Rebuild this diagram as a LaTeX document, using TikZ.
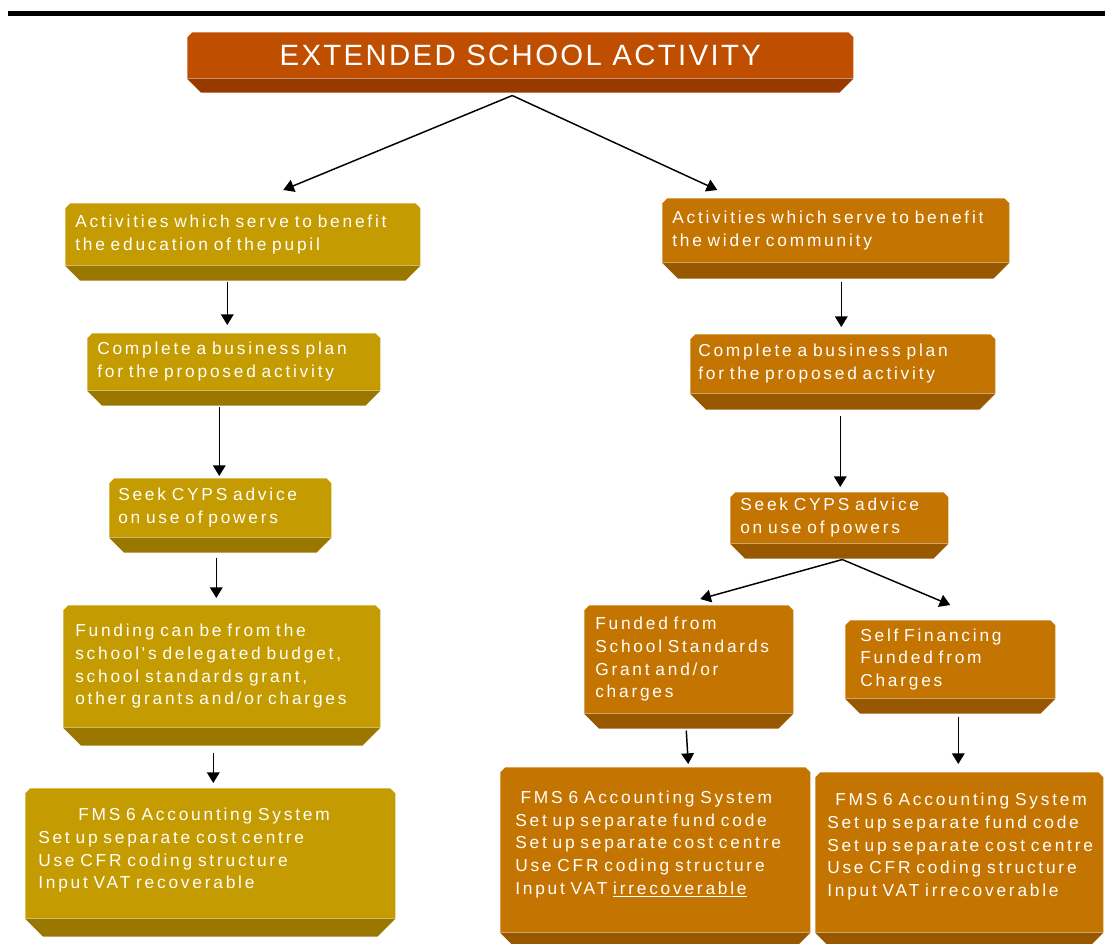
\documentclass[tikz,border=0pt]{standalone}
\usepackage{fontspec}
\setmainfont{Liberation Sans}
\newfontfamily\boxfont[LetterSpace=16]{Liberation Sans}
\newfontfamily\titlefont[LetterSpace=8]{Liberation Sans}
\usepackage{tikz}
\usetikzlibrary{arrows.meta}
\definecolor{ttlface}{HTML}{C04E00}
\definecolor{ttlbev}{HTML}{983A00}
\definecolor{goldface}{HTML}{C49B00}
\definecolor{goldbev}{HTML}{9A7800}
\definecolor{orgface}{HTML}{C47400}
\definecolor{orgbev}{HTML}{985800}
\newlength\pxu
\setlength\pxu{0.75pt}

\begin{document}
\begin{tikzpicture}[
  x=0.75pt, y=-0.75pt,
  panel/.style={rectangle, inner sep=0pt, anchor=north west, align=left,
    text=white, font=\boxfont\fontsize{13}{17}\selectfont,
    path picture={\fill[#1]
      ([xshift=5\pxu]path picture bounding box.north west)
      -- ([xshift=-5\pxu]path picture bounding box.north east)
      -- ([yshift=-5\pxu]path picture bounding box.north east)
      -- (path picture bounding box.south east)
      -- (path picture bounding box.south west)
      -- ([yshift=-5\pxu]path picture bounding box.north west) -- cycle;}},
  arr/.style={-{Triangle[length=8pt, width=9.5pt]}, line width=1.1pt}
]
\useasboundingbox (0,0) rectangle (1105,944);
\draw[line width=3.2pt] (8,13.5) -- (1105,13.5);

\node[panel=ttlface, align=center, minimum width=666\pxu, minimum height=46\pxu,
  font=\titlefont\fontsize{22}{22}\selectfont] (title) at (187,32)
  {EXTENDED SCHOOL ACTIVITY};

% pupil side
\node[panel=goldface, minimum width=355\pxu, minimum height=62\pxu,
  text width=335\pxu] (l1) at (65,203)
  {Activities which serve to benefit\\the education of the pupil};
\node[panel=goldface, minimum width=293\pxu, minimum height=57\pxu,
  text width=273\pxu] (l2) at (87,333)
  {Complete a business plan\\for the proposed activity};
\node[panel=goldface, minimum width=222\pxu, minimum height=59\pxu,
  text width=204\pxu] (l3) at (109,478)
  {Seek CYPS advice\\on use of powers};
\node[panel=goldface, minimum width=317\pxu, minimum height=122\pxu,
  text width=293\pxu] (l4) at (63,605)
  {Funding can be from the\\school's delegated budget,\\school standards grant,\\other grants and/or charges};
\node[panel=goldface, minimum width=370\pxu, minimum height=130\pxu,
  text width=344\pxu] (l5) at (25,788)
  {\hspace*{30pt}FMS 6 Accounting System\\Set up separate cost centre\\Use CFR coding structure\\Input VAT recoverable\\[-10pt]\mbox{}};

% community side
\node[panel=orgface, minimum width=347\pxu, minimum height=64\pxu,
  text width=327\pxu] (r1) at (662,198)
  {Activities which serve to benefit\\the wider community};
\node[panel=orgface, minimum width=305\pxu, minimum height=59\pxu,
  text width=289\pxu] (r2) at (690,334)
  {Complete a business plan\\for the proposed activity};
\node[panel=orgface, minimum width=218\pxu, minimum height=51\pxu,
  text width=198\pxu] (r3) at (730,492)
  {Seek CYPS advice\\on use of powers};
\node[panel=orgface, minimum width=209\pxu, minimum height=108\pxu,
  text width=187\pxu] (r4) at (584,605)
  {Funded from\\School Standards\\Grant and/or\\charges};
\node[panel=orgface, minimum width=210\pxu, minimum height=78\pxu,
  text width=180\pxu] (r5) at (845,620)
  {Self Financing\\Funded from\\Charges};
\node[panel=orgface, minimum width=310\pxu, minimum height=165\pxu,
  text width=280\pxu] (r6) at (500,767)
  {\hspace*{4pt}FMS 6 Accounting System\\Set up separate fund code\\Set up separate cost centre\\Use CFR coding structure\\Input VAT \underline{irrecoverable}\\[-6pt]\mbox{}};
\node[panel=orgface, minimum width=288\pxu, minimum height=160\pxu,
  text width=264\pxu] (r7) at (815,772)
  {\hspace*{6pt}FMS 6 Accounting System\\Set up separate fund code\\Set up separate cost centre\\Use CFR coding structure\\Input VAT irrecoverable\\[-6pt]\mbox{}};

\foreach \n/\c/\b in {title/ttlbev/14, l1/goldbev/15, l2/goldbev/15,
    l3/goldbev/15, l4/goldbev/18, l5/goldbev/18, r1/orgbev/16, r2/orgbev/16,
    r3/orgbev/15, r4/orgbev/15, r5/orgbev/15, r6/orgbev/14, r7/orgbev/14}
  \fill[\c] (\n.south west) -- (\n.south east) -- ([shift={(-\b,\b)}]\n.south east)
    -- ([shift={(\b,\b)}]\n.south west) -- cycle;

\foreach \a/\b/\s/\e in {title/l1/{-8,17}/{40.5,-13}, title/r1/{-8,17}/{-118.5,-8},
    l1/l2/{-15.5,16}/{-6.5,-8}, l2/l3/{-14.5,16}/{-1,-2}, l3/l4/{-4,20}/{-5.5,-7},
    l4/l5/{-8.5,25}/{3,-5}, r1/r2/{5.5,19}/{-1.5,-7}, r2/r3/{-2.5,22}/{1,-5},
    r3/r4/{3,16}/{11.5,-6}, r3/r5/{3,16}/{0,-15}, r4/r6/{-2.5,17}/{33,-3},
    r5/r7/{8,18}/{-1,-8}}
  \draw[arr] ([shift={(\s)}]\a.south) -- ([shift={(\e)}]\b.north);
\end{tikzpicture}
\end{document}
